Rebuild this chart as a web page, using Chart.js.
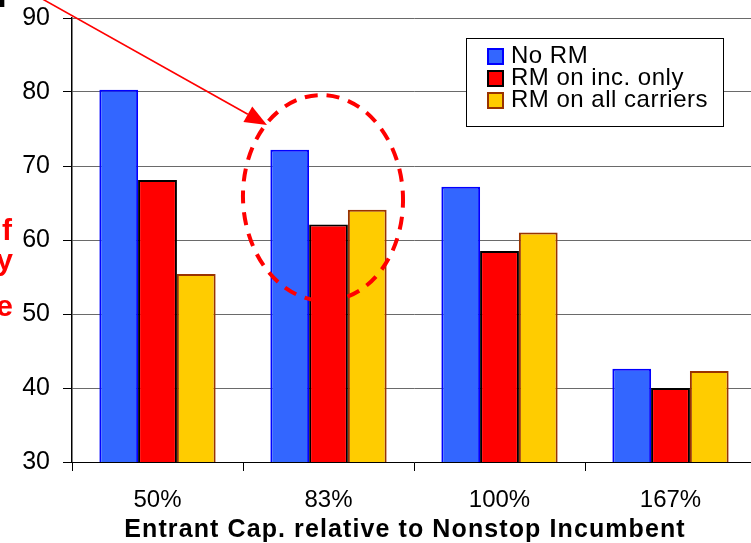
<!DOCTYPE html>
<html>
<head>
<meta charset="utf-8">
<script src="https://cdn.jsdelivr.net/npm/chart.js@4.4.1/dist/chart.umd.min.js"></script>
<style>
  html, body { margin: 0; padding: 0; background: #fff; overflow: hidden; }
  #wrap { width: 760px; height: 543px; }
</style>
</head>
<body>
<div id="wrap"><canvas id="c" width="760" height="543"></canvas></div>
<script>
// ---- data ----
const categories = ['50%', '83%', '100%', '167%'];
const seriesNames = ['No RM', 'RM on inc. only', 'RM on all carriers'];
const noRM      = [80.3, 72.2, 67.2, 42.6];
const rmIncOnly = [68.1, 62.1, 58.5, 40.0];
const rmAll     = [55.4, 64.1, 61.0, 42.3];
const yTicks    = [30, 40, 50, 60, 70, 80, 90];
const xTitle    = 'Entrant Cap. relative to Nonstop Incumbent';

const FONT = '"Liberation Sans", Arial, Helvetica, sans-serif';
const fills   = ['#3366FF', '#FF0000', '#FFCC00'];
const borders = ['#0000FF', '#000000', '#993300'];

const overlay = {
  id: 'overlay',
  afterDatasetsDraw(chart) {
    const ctx = chart.ctx;
    ctx.save();
    // legend box
    ctx.fillStyle = '#fff';
    ctx.fillRect(467, 39, 256, 87);
    ctx.strokeStyle = '#000';
    ctx.lineWidth = 1;
    ctx.strokeRect(466.5, 38.5, 257, 88);
    ctx.font = '24px ' + FONT;
    ctx.textBaseline = 'alphabetic';
    ctx.textAlign = 'left';
    if ('letterSpacing' in ctx) ctx.letterSpacing = '0.5px';
    chart.data.datasets.forEach((ds, i) => {
      const y = 49 + i * 22;
      ctx.fillStyle = ds.backgroundColor;
      ctx.fillRect(488, y, 15, 15);
      ctx.strokeStyle = ds.borderColor;
      ctx.lineWidth = 2;
      ctx.strokeRect(488, y, 15, 15);
      ctx.fillStyle = '#000';
      ctx.fillText(ds.label, 511, y + 14);
    });
    if ('letterSpacing' in ctx) ctx.letterSpacing = '0px';
    ctx.restore();
  },
  afterDraw(chart) {
    const ctx = chart.ctx;
    ctx.save();
    // axis title (drawn with slight letter spacing to match the reference width)
    ctx.font = 'bold 25px ' + FONT;
    ctx.fillStyle = '#000';
    ctx.textAlign = 'center';
    ctx.textBaseline = 'alphabetic';
    if ('letterSpacing' in ctx) ctx.letterSpacing = '1.1px';
    ctx.fillText(chart.options.scales.x.title.text, 405, 537);
    if ('letterSpacing' in ctx) ctx.letterSpacing = '0px';
    // dashed ellipse
    ctx.strokeStyle = '#FF0000';
    ctx.lineWidth = 4;
    ctx.setLineDash([13, 9]);
    ctx.beginPath();
    ctx.ellipse(323, 198, 80, 103, -0.04, 0, Math.PI * 2);
    ctx.stroke();
    ctx.setLineDash([]);
    // arrow
    const x0 = -20, y0 = -36, x1 = 267, y1 = 125;
    const ang = Math.atan2(y1 - y0, x1 - x0);
    const hl = 22, hw = 9;
    const bx = x1 - hl * Math.cos(ang), by = y1 - hl * Math.sin(ang);
    ctx.lineWidth = 1.6;
    ctx.beginPath();
    ctx.moveTo(x0, y0);
    ctx.lineTo(bx, by);
    ctx.stroke();
    ctx.fillStyle = '#FF0000';
    ctx.beginPath();
    ctx.moveTo(x1, y1);
    ctx.lineTo(bx + hw * Math.sin(ang), by - hw * Math.cos(ang));
    ctx.lineTo(bx - hw * Math.sin(ang), by + hw * Math.cos(ang));
    ctx.closePath();
    ctx.fill();
    // clipped slide text fragments
    ctx.font = 'bold 30px ' + FONT;
    ctx.textAlign = 'right';
    ctx.fillStyle = '#FF0000';
    ctx.fillText('f', 12, 240);
    ctx.fillText('y', 13, 270);
    ctx.fillText('e', 13, 316);
    ctx.fillStyle = '#000';
    ctx.textAlign = 'left';
    ctx.fillText('I', -2, 7);
    ctx.restore();
  }
};

new Chart(document.getElementById('c'), {
  type: 'bar',
  data: {
    labels: categories,
    datasets: [
      { label: seriesNames[0], data: noRM,      backgroundColor: fills[0], borderColor: borders[0], borderWidth: 2 },
      { label: seriesNames[1], data: rmIncOnly, backgroundColor: fills[1], borderColor: borders[1], borderWidth: 2 },
      { label: seriesNames[2], data: rmAll,     backgroundColor: fills[2], borderColor: borders[2], borderWidth: 2 }
    ]
  },
  options: {
    responsive: false,
    animation: false,
    devicePixelRatio: 1,
    layout: { padding: { top: 18, right: 4, left: 0, bottom: 0 } },
    datasets: { bar: { categoryPercentage: 0.68, barPercentage: 1.0 } },
    plugins: { legend: { display: false }, tooltip: { enabled: false } },
    scales: {
      x: {
        offset: true,
        grid: { offset: true, drawOnChartArea: false, drawTicks: true, tickLength: 9, color: '#000', lineWidth: 1 },
        border: { display: true, color: '#000', width: 1 },
        ticks: { color: '#000', font: { family: FONT, size: 24 }, padding: 15, maxRotation: 0 },
        title: { display: false, text: xTitle },
        afterFit(s) { s.height = 81; s.paddingLeft = 0; s.paddingRight = 0; }
      },
      y: {
        min: 30, max: 90,
        afterBuildTicks(s) { s.ticks = yTicks.map(v => ({ value: v })); },
        grid: { color: '#6a6a6a', lineWidth: 1, drawTicks: true, tickLength: 9, tickColor: '#000' },
        border: { display: true, color: '#000', width: 1.5 },
        ticks: { color: '#000', font: { family: FONT, size: 25 }, padding: 13 },
        afterFit(s) { s.width = 72; s.paddingTop = 0; s.paddingBottom = 0; }
      }
    }
  },
  plugins: [overlay]
});
</script>
</body>
</html>
